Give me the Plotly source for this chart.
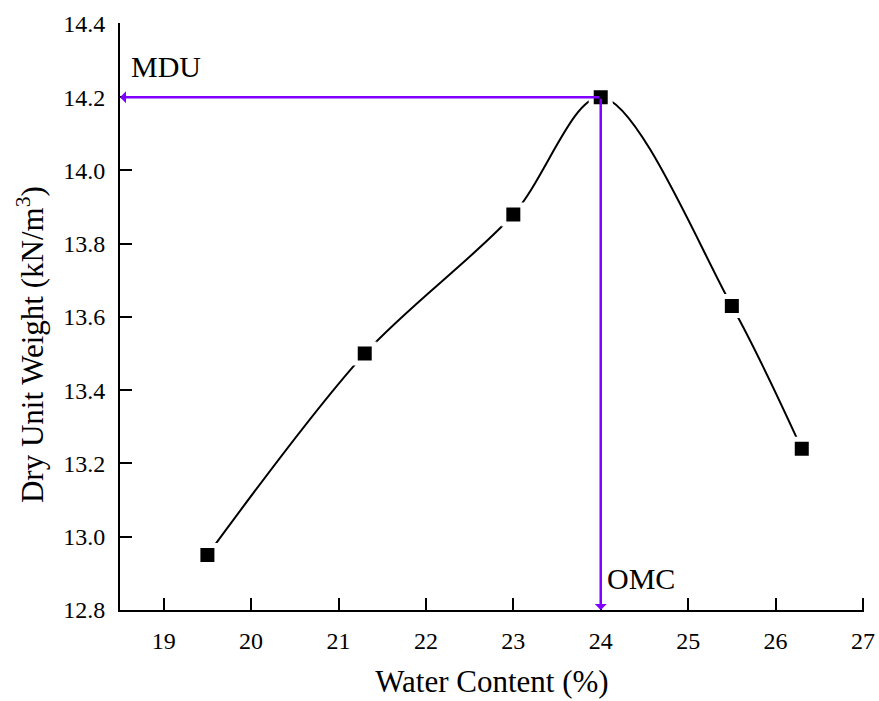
import plotly.graph_objects as go

water_content = [19.5, 21.3, 23.0, 24.0, 25.5, 26.3]
dry_unit_weight = [12.95, 13.5, 13.88, 14.2, 13.63, 13.24]
omc = 24.0
mdu = 14.2
x_ticks = [19, 20, 21, 22, 23, 24, 25, 26, 27]
y_ticks = [12.8, 13.0, 13.2, 13.4, 13.6, 13.8, 14.0, 14.2, 14.4]
x_range = [18.5, 27.012]
y_range = [12.8, 14.4025]

purple = "#7F00FF"
font_family = "Liberation Serif"

fig = go.Figure()
fig.add_trace(go.Scatter(
    x=water_content, y=dry_unit_weight, mode="lines",
    line=dict(color="black", width=2, shape="spline", smoothing=0.9),
    showlegend=False, hoverinfo="skip"))
fig.add_trace(go.Scatter(
    x=water_content, y=dry_unit_weight, mode="markers",
    marker=dict(symbol="square", size=19, color="black",
                line=dict(color="white", width=5)),
    showlegend=False))

# Arrows
fig.add_annotation(x=x_range[0], y=mdu, ax=omc, ay=mdu, xref="x", yref="y",
                   axref="x", ayref="y", showarrow=True, arrowhead=1,
                   arrowsize=0.8, arrowwidth=2.5, arrowcolor=purple, text="")
fig.add_annotation(x=omc, y=y_range[0], ax=omc, ay=mdu, xref="x", yref="y",
                   axref="x", ayref="y", showarrow=True, arrowhead=1,
                   arrowsize=0.8, arrowwidth=2.5, arrowcolor=purple, text="")
fig.add_annotation(x=18.6, y=14.285, text="MDU", showarrow=False,
                   xanchor="left", yanchor="middle",
                   font=dict(family=font_family, size=30, color="black"))
fig.add_annotation(x=24.05, y=12.885, text="OMC", showarrow=False,
                   xanchor="left", yanchor="middle",
                   font=dict(family=font_family, size=30, color="black"))
# Y axis title (placed as annotation to match offset)
fig.add_annotation(x=-0.121, y=0.453, xref="paper", yref="paper",
                   text="Dry Unit Weight (kN/m<sup>3</sup>)", textangle=-90,
                   showarrow=False, xanchor="center", yanchor="middle",
                   font=dict(family=font_family, size=31, color="black"))

axis_common = dict(showline=True, linecolor="black", linewidth=2,
                   ticks="inside", ticklen=12, tickwidth=2, tickcolor="black",
                   showgrid=False, zeroline=False, mirror=False, automargin=False,
                   ticklabeloverflow="allow",
                   tickfont=dict(family=font_family, size=24, color="black"))

fig.update_xaxes(range=x_range, tickvals=x_ticks,
                 ticktext=[str(v) for v in x_ticks], ticklabelstandoff=8,
                 title=dict(text="Water Content (%)", standoff=18,
                            font=dict(family=font_family, size=31, color="black")),
                 **axis_common)
fig.update_yaxes(range=y_range, tickvals=y_ticks,
                 ticktext=[f"{v:.1f}" for v in y_ticks], ticklabelstandoff=8,
                 **axis_common)

fig.update_layout(width=879, height=701, plot_bgcolor="white", paper_bgcolor="white",
                  margin=dict(l=120, r=15, t=23, b=91),
                  font=dict(family=font_family))
fig.write_html("out.html", config={"displayModeBar": False},
               post_script="document.body.style.margin='0';document.body.style.overflow='hidden';")
